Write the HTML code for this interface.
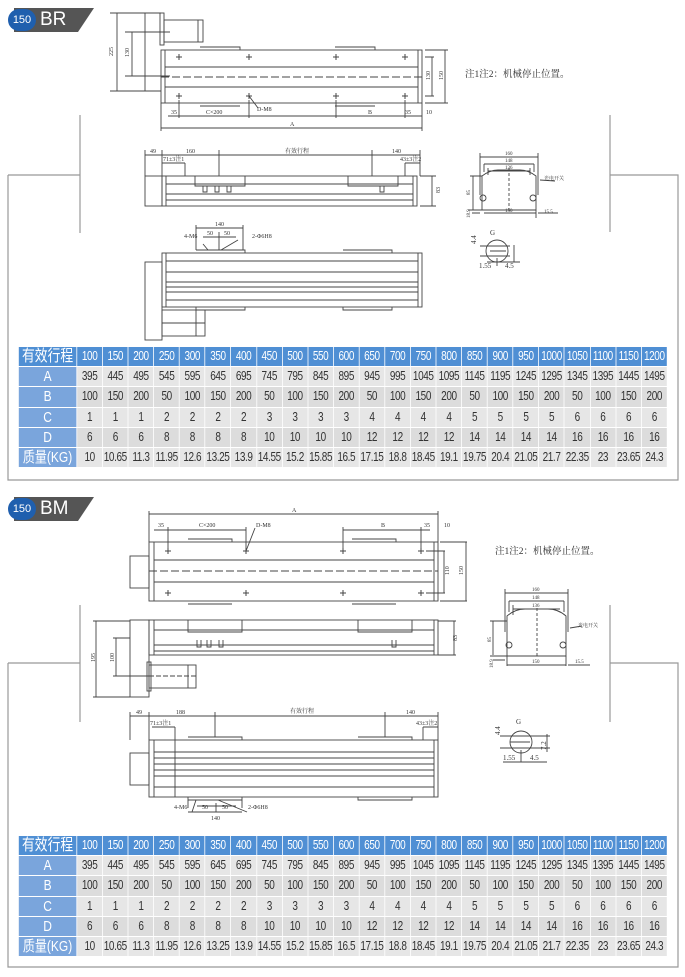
<!DOCTYPE html>
<html><head><meta charset="utf-8">
<style>
*{margin:0;padding:0;box-sizing:border-box}
body{width:685px;height:977px;background:#fff;position:relative;overflow:hidden;font-family:"Liberation Sans","Noto Sans CJK SC",sans-serif}
.hdr{position:absolute;left:0;width:100px;height:24px}
.tab{position:absolute;left:14px;top:0;width:80px;height:24px;background:#555;clip-path:polygon(0 0,100% 0,80% 100%,0 100%)}
.circ{position:absolute;left:8px;top:1px;width:28px;height:22px;border-radius:11px;background:#1f5fae;color:#fff;font-size:11px;line-height:22px;text-align:center}
.lbl{position:absolute;left:40px;top:0;color:#fff;font-size:19px;line-height:24px}
table{position:absolute;left:18px;width:812px;transform:scaleX(0.8);transform-origin:0 0;border-collapse:separate;border-spacing:1px;table-layout:fixed;font-size:12.5px;letter-spacing:-0.5px;color:#333}
td{height:19.2px;line-height:19px;text-align:center;padding:0;white-space:nowrap;overflow:hidden}
td:first-child{width:72px;background:#7aa5dc;color:#fff;font-size:15px;letter-spacing:0}
tr:first-child td{background:#4f8fd4;color:#fff}
tr:first-child td:first-child{background:#4f8fd4;font-size:16px}
tr:nth-child(even) td:not(:first-child){background:#e6e6e6}
tr:nth-child(odd):not(:first-child) td:not(:first-child){background:#dcdcdc}
svg{position:absolute;left:0;top:0}
</style></head><body>

<svg width="685" height="977" viewBox="0 0 685 977" fill="none" stroke="#444" stroke-width="0.9" font-family="Liberation Serif,Noto Serif CJK SC,serif" font-size="6">
<g stroke="#999" stroke-width="1.2">
<path d="M80 115V233M8 175H80M8 175V480H678V175H610M610 115V232"/>
<path d="M80 605V722M8 663H80M8 663V967H678V663H610M610 605V722"/>
</g>

<path d="M110 13H161M110 91H161M117 13V91M132 32V76M125 32H170M125 76H170M145 13V91"/>
<rect x="160" y="13" width="4" height="32"/><rect x="164" y="20" width="39" height="22"/>
<path d="M198 20V42" />
<rect x="161" y="50" width="261" height="53"/>
<path d="M165 50V103M418 50V103M165 67H418M165 87H418"/>
<path d="M161 77H422" stroke-dasharray="8 3"/>
<path d="M200 47H240V50M335 47H375V50M200 106H240M335 106H375"/>
<g stroke-width="1"><path d="M176 57h6M179 54v6M246 57h6M249 54v6M333 57h6M336 54v6M402 57h6M405 54v6M176 96h6M179 93v6M246 96h6M249 93v6M333 96h6M336 93v6M402 96h6M405 93v6"/></g>
<path d="M168 116H422M161 128H422M161 103V131M422 103V131M179 100V118M249 100V118M336 100V118M405 100V118M249 96L258 108"/>
<path d="M425 57H434M425 96H434M432 57V96M425 50H448M425 103H448M445 50V103"/>
<g fill="#333" stroke="none">
<text x="113" y="56" transform="rotate(-90 113 56)">225</text>
<text x="129" y="57" transform="rotate(-90 129 57)">130</text>
<text x="171" y="114">35</text><text x="206" y="114">C×200</text><text x="257" y="111">D-M8</text>
<text x="368" y="114">B</text><text x="405" y="114">35</text><text x="426" y="114">10</text>
<text x="290" y="126">A</text>
<text x="430" y="80" transform="rotate(-90 430 80)">130</text>
<text x="443" y="80" transform="rotate(-90 443 80)">150</text>
<text x="465" y="77" font-size="9.5">注1注2：机械停止位置。</text>
</g>
<rect x="145" y="176" width="17" height="30"/>
<rect x="162" y="176" width="255" height="30"/>
<path d="M166 184H413M166 194H413M166 200H413M166 176V206M413 176V206M195 176V186H245V176M348 176V186H398V176"/>
<path d="M203 186v6h4v-6M215 186v6h4v-6M227 186v6h4v-6M380 186v6h4v-6"/>
<path d="M145 155H420M145 150V176M162 150V176M219 150V176M372 150V176M420 150V176M162 163H185M185 163V176M405 163H420M405 163V176M420 176H436M420 206H436M432 176V206"/>
<g fill="#333" stroke="none">
<text x="150" y="153">49</text><text x="186" y="153">160</text><text x="285" y="153">有效行程</text><text x="392" y="153">140</text>
<text x="163" y="161">71±3注1</text><text x="400" y="161">43±3注2</text>
<text x="440" y="193" transform="rotate(-90 440 193)">83</text>
</g>
<rect x="145" y="262" width="17" height="78"/>
<rect x="162" y="253" width="260" height="54"/>
<path d="M166 253V307M418 253V307M166 261H418M166 272H418M166 282H418M166 287H418M166 292H418M166 300H418"/>
<path d="M196 250H245V253M343 250H392V253M196 307V310H245V307M343 307V310H392V307"/>
<rect x="162" y="310" width="43" height="26"/><path d="M196 310V336M162 323H205" />
<path d="M196 228H243M196 225V250M243 225V250M203 237H236M219 232V250M203 244L208 250M238 240L221 250"/>
<g fill="#333" stroke="none">
<text x="215" y="226">140</text><text x="207" y="235">50</text><text x="224" y="235">50</text>
<text x="184" y="238">4-M6</text><text x="252" y="238">2-Φ6H8</text>
</g>
<path d="M480 157H538M484 164H534M488 171H530M480 153V195M538 153V195M484 164V172M534 164V172M488 168V175M530 168V175"/>
<path d="M482 176Q490 170 498 170H520Q528 170 536 176L536 210H482Z"/>
<path d="M509 168V212" stroke-dasharray="3 2"/>
<path d="M470 176H482M473 176V210M468 210H482M472 213H480M484 213H536M536 210V218M538 213H558M540 180L555 181"/>
<circle cx="483" cy="198" r="3"/><circle cx="533" cy="198" r="3"/>
<g fill="#333" stroke="none" font-size="5">
<text x="505" y="155">160</text><text x="505" y="162">148</text><text x="505" y="169">136</text>
<text x="544" y="180">光电开关</text><text x="505" y="212">150</text><text x="544" y="213">15.5</text>
<text x="470" y="195" transform="rotate(-90 470 195)">85</text><text x="470" y="218" transform="rotate(-90 470 218)">18.9</text>
</g>
<circle cx="497" cy="251" r="11"/>
<path d="M480 246H510M480 256H510M490 251H506M497 258V266M487 262H520M514 245V262"/>
<g fill="#333" stroke="none" font-size="7"><text x="490" y="235">G</text><text x="479" y="268">1.55</text><text x="505" y="268">4.5</text>
<text x="476" y="244" transform="rotate(-90 476 244)">4.4</text></g>

<rect x="130" y="556" width="19" height="32"/>
<rect x="149" y="542" width="289" height="59"/>
<path d="M154 542V601M434 542V601M154 560H434M154 582H434"/>
<path d="M149 571H438" stroke-dasharray="8 3"/>
<path d="M188 539H232V542M352 539H396V542M188 604H232M352 604H396"/>
<g stroke-width="1"><path d="M165 551h6M168 548v6M243 551h6M246 548v6M340 551h6M343 548v6M418 551h6M421 548v6M165 593h6M168 590v6M243 593h6M246 590v6M340 593h6M343 590v6M418 593h6M421 590v6"/></g>
<path d="M149 514H438M149 511V542M438 511V542M154 530H246M168 527V548M246 527V548M343 530H430M343 527V548M421 527V548M246 551L255 528"/>
<path d="M426 551H445M426 593H445M444 551V593M440 542H467M440 601H467M466 542V601"/>
<g fill="#333" stroke="none">
<text x="292" y="512">A</text>
<text x="158" y="527">35</text><text x="199" y="527">C×200</text><text x="256" y="527">D-M8</text>
<text x="381" y="527">B</text><text x="424" y="527">35</text><text x="444" y="527">10</text>
<text x="449" y="575" transform="rotate(-90 449 575)">110</text>
<text x="463" y="575" transform="rotate(-90 463 575)">150</text>
<text x="495" y="554" font-size="9.5">注1注2：机械停止位置。</text>
</g>
<rect x="130" y="620" width="19" height="77"/>
<rect x="149" y="620" width="289" height="35"/>
<path d="M154 620V655M434 620V655M154 630H434M154 645H434M154 651H434M188 620V632H242V620M358 620V632H412V620"/>
<path d="M197 640v7h4v-7M207 640v7h4v-7M219 640v7h4v-7M392 640v7h4v-7"/>
<rect x="149" y="665" width="47" height="23"/><rect x="147" y="662" width="4" height="29"/><path d="M188 665V688"/>
<path d="M149 676H196" stroke-dasharray="5 2"/>
<path d="M93 621H130M93 697H130M96 621V697M113 638H130M113 676H149M116 638V676M438 621H456M438 655H456M454 621V655"/>
<g fill="#333" stroke="none">
<text x="95" y="662" transform="rotate(-90 95 662)">195</text>
<text x="114" y="662" transform="rotate(-90 114 662)">100</text>
<text x="457" y="641" transform="rotate(-90 457 641)">83</text>
</g>
<rect x="130" y="753" width="19" height="32"/>
<rect x="149" y="740" width="289" height="57"/>
<path d="M154 740V797M434 740V797M154 752H434M154 758H434M154 764H434M154 770H434M154 776H434M154 787H434"/>
<path d="M188 737H242V740M358 737H412V740M188 797V800H242V797M358 797V800H412V797"/>
<path d="M130 716H438M130 712V740M149 712V740M215 712V737M385 712V737M438 712V740M152 727H175M175 727V797M423 727H438M423 727V740"/>
<path d="M188 812H242M188 808V800M242 808V800M197 806H236M216 803V812M196 800L192 812M218 800L247 812"/>
<g fill="#333" stroke="none">
<text x="136" y="714">49</text><text x="176" y="714">188</text><text x="290" y="713">有效行程</text><text x="406" y="714">140</text>
<text x="150" y="725">71±3注1</text><text x="416" y="725">43±3注2</text>
<text x="174" y="809">4-M6</text><text x="202" y="809">50</text><text x="222" y="809">50</text><text x="248" y="809">2-Φ6H8</text>
<text x="211" y="820">140</text>
</g>
<path d="M505 593H568M509 601H564M513 609H560M505 589V632M568 589V632M509 601V612M564 601V612M513 605V615"/>
<path d="M507 616Q515 609 525 609H548Q558 609 566 616L566 656H507Z"/>
<path d="M537 608V658" stroke-dasharray="3 2"/>
<path d="M490 621H507M493 621V655M490 656H507M493 660H505M507 656V666M566 656V666M507 665H566M568 665H590M570 628L582 626"/>
<circle cx="509" cy="645" r="3"/><circle cx="563" cy="645" r="3"/>
<g fill="#333" stroke="none" font-size="5">
<text x="532" y="591">160</text><text x="532" y="599">148</text><text x="532" y="607">136</text>
<text x="578" y="627">光电开关</text><text x="532" y="663">150</text><text x="575" y="663">15.5</text>
<text x="491" y="642" transform="rotate(-90 491 642)">85</text><text x="493" y="668" transform="rotate(-90 493 668)">18.9</text>
</g>
<circle cx="521" cy="742" r="11"/>
<path d="M500 736H550M500 748H550M510 742H530M521 750V762M503 762H547M547 734V752"/>
<g fill="#333" stroke="none" font-size="7"><text x="516" y="724">G</text><text x="503" y="760">1.55</text><text x="530" y="760">4.5</text>
<text x="500" y="735" transform="rotate(-90 500 735)">4.4</text><text x="546" y="750" transform="rotate(-90 546 750)">7.2</text></g>
</svg>

<div class="hdr" style="top:8px"><div class="tab"></div><div class="circ">150</div><div class="lbl">BR</div></div>
<div class="hdr" style="top:497px"><div class="tab"></div><div class="circ">150</div><div class="lbl">BM</div></div>

<table style="top:346px">
<tr><td>有效行程</td><td>100</td><td>150</td><td>200</td><td>250</td><td>300</td><td>350</td><td>400</td><td>450</td><td>500</td><td>550</td><td>600</td><td>650</td><td>700</td><td>750</td><td>800</td><td>850</td><td>900</td><td>950</td><td>1000</td><td>1050</td><td>1100</td><td>1150</td><td>1200</td></tr>
<tr><td>A</td><td>395</td><td>445</td><td>495</td><td>545</td><td>595</td><td>645</td><td>695</td><td>745</td><td>795</td><td>845</td><td>895</td><td>945</td><td>995</td><td>1045</td><td>1095</td><td>1145</td><td>1195</td><td>1245</td><td>1295</td><td>1345</td><td>1395</td><td>1445</td><td>1495</td></tr>
<tr><td>B</td><td>100</td><td>150</td><td>200</td><td>50</td><td>100</td><td>150</td><td>200</td><td>50</td><td>100</td><td>150</td><td>200</td><td>50</td><td>100</td><td>150</td><td>200</td><td>50</td><td>100</td><td>150</td><td>200</td><td>50</td><td>100</td><td>150</td><td>200</td></tr>
<tr><td>C</td><td>1</td><td>1</td><td>1</td><td>2</td><td>2</td><td>2</td><td>2</td><td>3</td><td>3</td><td>3</td><td>3</td><td>4</td><td>4</td><td>4</td><td>4</td><td>5</td><td>5</td><td>5</td><td>5</td><td>6</td><td>6</td><td>6</td><td>6</td></tr>
<tr><td>D</td><td>6</td><td>6</td><td>6</td><td>8</td><td>8</td><td>8</td><td>8</td><td>10</td><td>10</td><td>10</td><td>10</td><td>12</td><td>12</td><td>12</td><td>12</td><td>14</td><td>14</td><td>14</td><td>14</td><td>16</td><td>16</td><td>16</td><td>16</td></tr>
<tr><td>质量(KG)</td><td>10</td><td>10.65</td><td>11.3</td><td>11.95</td><td>12.6</td><td>13.25</td><td>13.9</td><td>14.55</td><td>15.2</td><td>15.85</td><td>16.5</td><td>17.15</td><td>18.8</td><td>18.45</td><td>19.1</td><td>19.75</td><td>20.4</td><td>21.05</td><td>21.7</td><td>22.35</td><td>23</td><td>23.65</td><td>24.3</td></tr>
</table>

<table style="top:835px">
<tr><td>有效行程</td><td>100</td><td>150</td><td>200</td><td>250</td><td>300</td><td>350</td><td>400</td><td>450</td><td>500</td><td>550</td><td>600</td><td>650</td><td>700</td><td>750</td><td>800</td><td>850</td><td>900</td><td>950</td><td>1000</td><td>1050</td><td>1100</td><td>1150</td><td>1200</td></tr>
<tr><td>A</td><td>395</td><td>445</td><td>495</td><td>545</td><td>595</td><td>645</td><td>695</td><td>745</td><td>795</td><td>845</td><td>895</td><td>945</td><td>995</td><td>1045</td><td>1095</td><td>1145</td><td>1195</td><td>1245</td><td>1295</td><td>1345</td><td>1395</td><td>1445</td><td>1495</td></tr>
<tr><td>B</td><td>100</td><td>150</td><td>200</td><td>50</td><td>100</td><td>150</td><td>200</td><td>50</td><td>100</td><td>150</td><td>200</td><td>50</td><td>100</td><td>150</td><td>200</td><td>50</td><td>100</td><td>150</td><td>200</td><td>50</td><td>100</td><td>150</td><td>200</td></tr>
<tr><td>C</td><td>1</td><td>1</td><td>1</td><td>2</td><td>2</td><td>2</td><td>2</td><td>3</td><td>3</td><td>3</td><td>3</td><td>4</td><td>4</td><td>4</td><td>4</td><td>5</td><td>5</td><td>5</td><td>5</td><td>6</td><td>6</td><td>6</td><td>6</td></tr>
<tr><td>D</td><td>6</td><td>6</td><td>6</td><td>8</td><td>8</td><td>8</td><td>8</td><td>10</td><td>10</td><td>10</td><td>10</td><td>12</td><td>12</td><td>12</td><td>12</td><td>14</td><td>14</td><td>14</td><td>14</td><td>16</td><td>16</td><td>16</td><td>16</td></tr>
<tr><td>质量(KG)</td><td>10</td><td>10.65</td><td>11.3</td><td>11.95</td><td>12.6</td><td>13.25</td><td>13.9</td><td>14.55</td><td>15.2</td><td>15.85</td><td>16.5</td><td>17.15</td><td>18.8</td><td>18.45</td><td>19.1</td><td>19.75</td><td>20.4</td><td>21.05</td><td>21.7</td><td>22.35</td><td>23</td><td>23.65</td><td>24.3</td></tr>
</table>
</body></html>
